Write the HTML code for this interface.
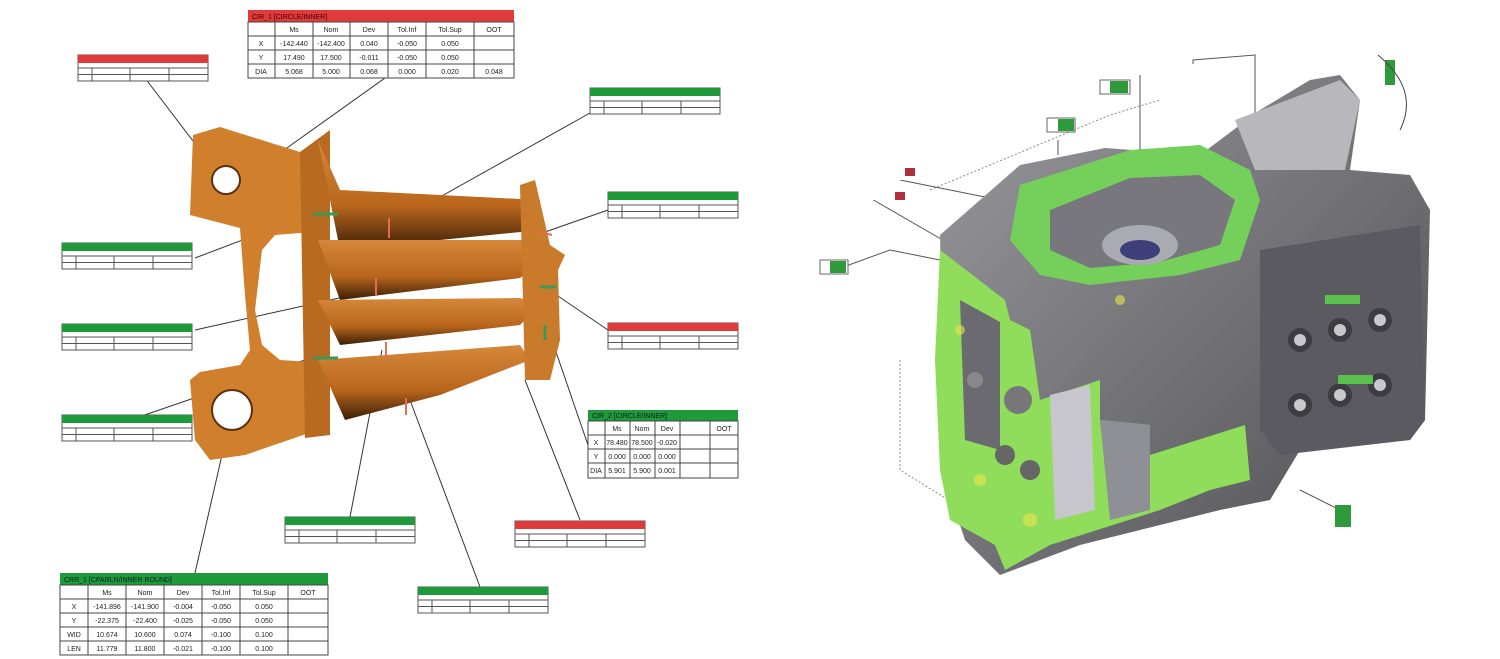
<!DOCTYPE html>
<html><head><meta charset="utf-8"><style>
body{margin:0;background:#fff;}
svg{display:block;font-family:"Liberation Sans",sans-serif;}
</style></head><body>
<svg width="1500" height="659" viewBox="0 0 1500 659" xmlns="http://www.w3.org/2000/svg">
<defs>
<g id="st">
<rect x="0" y="0" width="130" height="26" fill="#fff" stroke="#555" stroke-width="1"/>
<line x1="0" y1="13" x2="130" y2="13" stroke="#555"/>
<line x1="0" y1="19.5" x2="130" y2="19.5" stroke="#555"/>
<line x1="14" y1="13" x2="14" y2="26" stroke="#555"/>
<line x1="52" y1="13" x2="52" y2="26" stroke="#555"/>
<line x1="91" y1="13" x2="91" y2="26" stroke="#555"/>
</g>
<linearGradient id="rib" x1="0" y1="0" x2="0" y2="1"><stop offset="0" stop-color="#d6883a"/><stop offset=".6" stop-color="#b9661c"/><stop offset="1" stop-color="#3a1e08"/></linearGradient>
<linearGradient id="gr" x1="0" y1="0" x2="1" y2="1"><stop offset="0" stop-color="#9a9a9e"/><stop offset="1" stop-color="#4d4d52"/></linearGradient>
</defs>

<!-- leader lines -->
<g stroke="#333" stroke-width="1" fill="none">
<line x1="145" y1="78" x2="225" y2="183"/>
<line x1="385" y1="78" x2="235" y2="185"/>
<line x1="590" y1="113" x2="390" y2="225"/>
<line x1="608" y1="210" x2="545" y2="232"/>
<line x1="195" y1="258" x2="290" y2="222"/>
<line x1="608" y1="330" x2="552" y2="292"/>
<line x1="195" y1="330" x2="375" y2="290"/>
<line x1="130" y1="420" x2="305" y2="360"/>
<line x1="588" y1="445" x2="545" y2="320"/>
<line x1="350" y1="517" x2="382" y2="350"/>
<line x1="580" y1="520" x2="525" y2="380"/>
<line x1="480" y1="587" x2="410" y2="400"/>
<line x1="195" y1="573" x2="230" y2="420"/>
</g>

<!-- orange part -->
<g>
<path d="M193,135 L220,127 L300,152 L318,160 L312,232 L275,235 L262,250 L255,310 L262,345 L280,360 L312,362 L312,432 L245,455 L210,460 L195,440 L190,380 L200,372 L240,365 L250,350 L245,295 L240,228 L190,215 Z" fill="#d07f2c"/>
<path d="M300,152 L330,130 L330,435 L305,438 Z" fill="#b86a20"/>
<path d="M318,140 L340,190 L540,200 L540,230 L340,250 Z" fill="url(#rib)"/>
<path d="M318,240 L540,240 L540,262 L520,278 L340,300 Z" fill="url(#rib)"/>
<path d="M318,300 L520,298 L540,305 L520,325 L340,345 Z" fill="url(#rib)"/>
<path d="M318,360 L520,345 L530,360 L440,395 L345,420 Z" fill="url(#rib)"/>
<path d="M520,185 L535,180 L550,245 L565,255 L558,270 L560,340 L550,380 L525,380 Z" fill="#c97a2b"/>
<circle cx="226" cy="180" r="14" fill="#fff" stroke="#5a3010" stroke-width="2"/>
<circle cx="232" cy="410" r="20" fill="#fff" stroke="#5a3010" stroke-width="2"/>
<g stroke="#3a9a55" stroke-width="3"><line x1="313" y1="214" x2="338" y2="214"/><line x1="313" y1="358" x2="338" y2="358"/><line x1="540" y1="287" x2="556" y2="287"/><line x1="545" y1="325" x2="545" y2="340"/></g>
<g stroke="#e07050" stroke-width="2"><line x1="389" y1="218" x2="389" y2="238"/><line x1="376" y1="278" x2="376" y2="295"/><line x1="386" y1="342" x2="386" y2="360"/><line x1="406" y1="398" x2="406" y2="415"/><line x1="540" y1="232" x2="552" y2="235"/></g>
</g>

<!-- small tables -->
<g font-size="5" fill="#333">
<g transform="translate(78,55)"><use href="#st"/><rect width="130" height="8" fill="#e03a3a"/></g>
<g transform="translate(590,88)"><use href="#st"/><rect width="130" height="8" fill="#1f9a3a"/></g>
<g transform="translate(608,192)"><use href="#st"/><rect width="130" height="8" fill="#1f9a3a"/></g>
<g transform="translate(62,243)"><use href="#st"/><rect width="130" height="8" fill="#1f9a3a"/></g>
<g transform="translate(608,323)"><use href="#st"/><rect width="130" height="8" fill="#e03a3a"/></g>
<g transform="translate(62,324)"><use href="#st"/><rect width="130" height="8" fill="#1f9a3a"/></g>
<g transform="translate(62,415)"><use href="#st"/><rect width="130" height="8" fill="#1f9a3a"/></g>
<g transform="translate(285,517)"><use href="#st"/><rect width="130" height="8" fill="#1f9a3a"/></g>
<g transform="translate(515,521)"><use href="#st"/><rect width="130" height="8" fill="#e03a3a"/></g>
<g transform="translate(418,587)"><use href="#st"/><rect width="130" height="8" fill="#1f9a3a"/></g>
</g>

<!-- Big table A -->
<g font-size="7" fill="#222" text-anchor="middle">
<rect x="248" y="10" width="266" height="12" fill="#e03a3a"/>
<text x="252" y="19" text-anchor="start" fill="#400" font-size="7">CIR_1 [CIRCLE/INNER]</text>
<rect x="248" y="22" width="266" height="56" fill="#fff" stroke="#444"/>
<g stroke="#444"><line x1="248" y1="36" x2="514" y2="36"/><line x1="248" y1="50" x2="514" y2="50"/><line x1="248" y1="64" x2="514" y2="64"/>
<line x1="275" y1="22" x2="275" y2="78"/><line x1="313" y1="22" x2="313" y2="78"/><line x1="350" y1="22" x2="350" y2="78"/><line x1="388" y1="22" x2="388" y2="78"/><line x1="426" y1="22" x2="426" y2="78"/><line x1="474" y1="22" x2="474" y2="78"/></g>
<text x="294" y="32">Ms</text><text x="331" y="32">Nom</text><text x="369" y="32">Dev</text><text x="407" y="32">Tol.Inf</text><text x="450" y="32">Tol.Sup</text><text x="494" y="32">OOT</text>
<text x="261" y="46">X</text><text x="294" y="46">-142.440</text><text x="331" y="46">-142.400</text><text x="369" y="46">0.040</text><text x="407" y="46">-0.050</text><text x="450" y="46">0.050</text>
<text x="261" y="60">Y</text><text x="294" y="60">17.490</text><text x="331" y="60">17.500</text><text x="369" y="60">-0.011</text><text x="407" y="60">-0.050</text><text x="450" y="60">0.050</text>
<text x="261" y="74">DIA</text><text x="294" y="74">5.068</text><text x="331" y="74">5.000</text><text x="369" y="74">0.068</text><text x="407" y="74">0.000</text><text x="450" y="74">0.020</text><text x="494" y="74">0.048</text>
</g>

<!-- Big table B -->
<g font-size="7" fill="#222" text-anchor="middle">
<rect x="588" y="410" width="150" height="11" fill="#1f9a3a"/>
<text x="592" y="418" text-anchor="start" fill="#022">CIR_2 [CIRCLE/INNER]</text>
<rect x="588" y="421" width="150" height="57" fill="#fff" stroke="#444"/>
<g stroke="#444"><line x1="588" y1="435" x2="738" y2="435"/><line x1="588" y1="449" x2="738" y2="449"/><line x1="588" y1="463" x2="738" y2="463"/>
<line x1="605" y1="421" x2="605" y2="478"/><line x1="630" y1="421" x2="630" y2="478"/><line x1="655" y1="421" x2="655" y2="478"/><line x1="680" y1="421" x2="680" y2="478"/><line x1="710" y1="421" x2="710" y2="478"/></g>
<text x="617" y="431">Ms</text><text x="642" y="431">Nom</text><text x="667" y="431">Dev</text><text x="724" y="431">OOT</text>
<text x="596" y="445">X</text><text x="617" y="445">78.480</text><text x="642" y="445">78.500</text><text x="667" y="445">-0.020</text>
<text x="596" y="459">Y</text><text x="617" y="459">0.000</text><text x="642" y="459">0.000</text><text x="667" y="459">0.000</text>
<text x="596" y="473">DIA</text><text x="617" y="473">5.901</text><text x="642" y="473">5.900</text><text x="667" y="473">0.001</text>
</g>

<!-- Big table C -->
<g font-size="7" fill="#222" text-anchor="middle">
<rect x="60" y="573" width="268" height="12" fill="#1f9a3a"/>
<text x="64" y="582" text-anchor="start" fill="#022">CRR_1 [CPARLN/INNER ROUND]</text>
<rect x="60" y="585" width="268" height="70" fill="#fff" stroke="#444"/>
<g stroke="#444"><line x1="60" y1="599" x2="328" y2="599"/><line x1="60" y1="613" x2="328" y2="613"/><line x1="60" y1="627" x2="328" y2="627"/><line x1="60" y1="641" x2="328" y2="641"/>
<line x1="88" y1="585" x2="88" y2="655"/><line x1="126" y1="585" x2="126" y2="655"/><line x1="164" y1="585" x2="164" y2="655"/><line x1="202" y1="585" x2="202" y2="655"/><line x1="240" y1="585" x2="240" y2="655"/><line x1="288" y1="585" x2="288" y2="655"/></g>
<text x="107" y="595">Ms</text><text x="145" y="595">Nom</text><text x="183" y="595">Dev</text><text x="221" y="595">Tol.Inf</text><text x="264" y="595">Tol.Sup</text><text x="308" y="595">OOT</text>
<text x="74" y="609">X</text><text x="107" y="609">-141.896</text><text x="145" y="609">-141.900</text><text x="183" y="609">-0.004</text><text x="221" y="609">-0.050</text><text x="264" y="609">0.050</text>
<text x="74" y="623">Y</text><text x="107" y="623">-22.375</text><text x="145" y="623">-22.400</text><text x="183" y="623">-0.025</text><text x="221" y="623">-0.050</text><text x="264" y="623">0.050</text>
<text x="74" y="637">WID</text><text x="107" y="637">10.674</text><text x="145" y="637">10.600</text><text x="183" y="637">0.074</text><text x="221" y="637">-0.100</text><text x="264" y="637">0.100</text>
<text x="74" y="651">LEN</text><text x="107" y="651">11.779</text><text x="145" y="651">11.800</text><text x="183" y="651">-0.021</text><text x="221" y="651">-0.100</text><text x="264" y="651">0.100</text>
</g>

<!-- Right: engine block -->
<g>
<g stroke="#555" stroke-width="1" fill="none">
<polyline points="1193,64 1193,60 1255,55 1255,150"/>
<line x1="1140" y1="75" x2="1140" y2="165"/>
<line x1="1058" y1="140" x2="1058" y2="155"/>
<line x1="900" y1="180" x2="1000" y2="200"/>
<line x1="870" y1="198" x2="960" y2="250"/>
<line x1="835" y1="270" x2="890" y2="250" />
<line x1="890" y1="250" x2="940" y2="260"/>
<line x1="1300" y1="490" x2="1340" y2="510"/>
</g>
<g stroke="#888" stroke-dasharray="2,2" fill="none"><polyline points="900,360 900,470 1005,535"/><polyline points="930,190 1110,115 1160,100"/></g>
<!-- main gray body -->
<path d="M940,235 L1020,165 L1105,148 L1200,155 L1260,110 L1310,80 L1340,75 L1360,100 L1350,170 L1410,175 L1430,210 L1425,420 L1410,440 L1300,450 L1270,500 L1220,510 L1080,545 L1000,575 L965,540 L945,480 Z" fill="url(#gr)"/>
<path d="M1260,250 L1420,225 L1425,420 L1410,440 L1280,455 L1260,430 Z" fill="#5a5a60"/>
<path d="M1235,120 L1340,80 L1360,100 L1345,170 L1255,170 Z" fill="#b8b8bc"/>
<g fill="#3c3c42">
<circle cx="1300" cy="340" r="12"/><circle cx="1340" cy="330" r="12"/><circle cx="1380" cy="320" r="12"/>
<circle cx="1300" cy="405" r="12"/><circle cx="1340" cy="395" r="12"/><circle cx="1380" cy="385" r="12"/>
</g>
<g fill="#c8c8cc"><circle cx="1300" cy="340" r="6"/><circle cx="1340" cy="330" r="6"/><circle cx="1380" cy="320" r="6"/><circle cx="1300" cy="405" r="6"/><circle cx="1340" cy="395" r="6"/><circle cx="1380" cy="385" r="6"/></g>
<!-- top green ring -->
<path d="M1020,185 L1130,150 L1200,145 L1250,170 L1260,200 L1240,260 L1180,275 L1090,285 L1040,275 L1010,240 Z" fill="#74d05a"/>
<path d="M1050,210 L1130,178 L1200,175 L1235,200 L1220,245 L1160,262 L1090,268 L1050,250 Z" fill="#77777d"/>
<ellipse cx="1140" cy="245" rx="38" ry="20" fill="#aaaab2"/>
<ellipse cx="1140" cy="250" rx="20" ry="10" fill="#3e3e78"/>
<!-- front green face -->
<path d="M940,250 L1005,300 L1010,320 L1030,330 L1040,400 L1100,380 L1100,420 L1150,425 L1150,455 L1245,425 L1250,480 L1210,490 L1160,510 L1050,545 L1005,570 L995,545 L950,520 L940,470 L935,360 Z" fill="#8fdd5a"/>
<path d="M960,300 L1000,322 L1000,450 L965,440 Z" fill="#6a6a70"/>
<path d="M1050,395 L1090,385 L1095,510 L1055,520 Z" fill="#c6c6cc"/>
<path d="M1100,420 L1150,425 L1150,510 L1110,520 Z" fill="#8f8f96"/>
<circle cx="1018" cy="400" r="14" fill="#777" />
<circle cx="1005" cy="455" r="10" fill="#666"/>
<circle cx="1030" cy="470" r="10" fill="#666"/>
<circle cx="975" cy="380" r="8" fill="#888"/>
<g fill="#e7e64c" opacity=".6"><circle cx="980" cy="480" r="6"/><circle cx="1030" cy="520" r="7"/><circle cx="1120" cy="300" r="5"/><circle cx="960" cy="330" r="5"/></g>
<!-- small tags -->
<g>
<rect x="1047" y="118" width="28" height="14" fill="#fff" stroke="#666"/><rect x="1058" y="119" width="16" height="12" fill="#2f9a3a"/>
<rect x="1100" y="80" width="30" height="14" fill="#fff" stroke="#666"/><rect x="1110" y="81" width="18" height="12" fill="#2f9a3a"/>
<rect x="820" y="260" width="28" height="14" fill="#fff" stroke="#666"/><rect x="830" y="261" width="16" height="12" fill="#2f9a3a"/>
<rect x="880" y="168" width="40" height="12" fill="#fff"/><rect x="905" y="168" width="10" height="8" fill="#b0303a"/>
<rect x="870" y="188" width="40" height="12" fill="#fff"/><rect x="895" y="192" width="10" height="8" fill="#b0303a"/>
<rect x="1335" y="505" width="16" height="22" fill="#2f9a3a"/>
<rect x="1385" y="60" width="10" height="25" fill="#2f9a3a"/>
<rect x="1325" y="295" width="35" height="9" fill="#5bc050"/>
<rect x="1338" y="375" width="35" height="9" fill="#5bc050"/>
</g>
<path d="M1378,55 Q1420,90 1400,130" stroke="#444" fill="none"/>
</g>
</svg>
</body></html>
